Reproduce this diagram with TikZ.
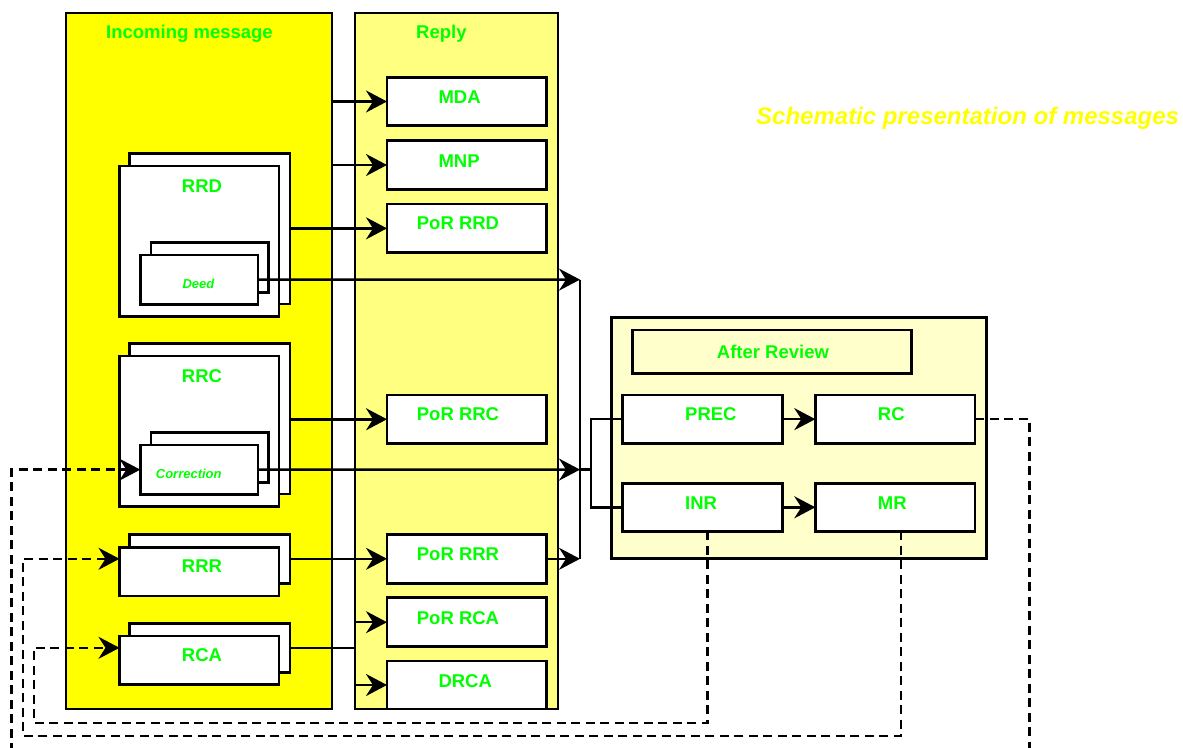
\documentclass[tikz,border=0pt]{standalone}
\usepackage{fontspec}
\setmainfont{Liberation Sans}
\usetikzlibrary{arrows.meta,calc}
\definecolor{incY}{HTML}{FFFF00}
\definecolor{repY}{HTML}{FFFF80}
\definecolor{arY}{HTML}{FFFFCC}
\definecolor{txtG}{HTML}{00FF00}
\newcommand\mybox[6][]{\node[box,#1,minimum width={(#5)-(#3)},minimum height={(#6)-(#4)}] (#2) at ({((#3)+(#5))/2},{((#4)+(#6))/2}) {};}
\begin{document}
\begin{tikzpicture}[x=1pt,y=-1pt,
  box/.style={draw=black,line width=2.5pt,fill=white,inner sep=0pt,outer sep=0pt,rectangle},
  lbl/.style={text=txtG,font=\bfseries\fontsize{18.5}{20}\selectfont,inner sep=0pt,anchor=west,text height=13.3pt,text depth=0pt},
  slbl/.style={lbl,font=\bfseries\itshape\fontsize{13}{15}\selectfont,text height=9.4pt},
  conn/.style={line width=2.5pt,line join=miter},
  tip/.style={-{Stealth[length=21pt,width=22pt,inset=7pt]}},
  arr/.style={conn,tip},
  dsh/.style={conn,dash pattern=on 9pt off 5.5pt},
  darr/.style={dsh,tip}]
\useasboundingbox (0,0) rectangle (1183,747);
\clip (0,0) rectangle (1183,747);
% containers
\mybox[fill=incY]{inc}{66}{13}{332}{709}
\mybox[fill=repY]{rep}{355}{13}{558}{709}
\mybox[fill=arY]{ar}{611.7}{317.5}{986.7}{558.3}
\mybox[fill=arY]{art}{632.7}{330}{911.7}{373.3}
% reply items
\mybox{mda}{387}{77.3}{546.5}{125.7}
\mybox{mnp}{387}{140.7}{546.5}{189.3}
\mybox{porrrd}{387}{204}{546.5}{252.7}
\mybox{porrrc}{387}{395}{546.5}{443.5}
\mybox{porrrr}{387}{534.3}{546.5}{583.3}
\mybox{porrca}{387}{597.7}{546.5}{646.7}
\mybox{drca}{387}{661}{546.5}{709}
% incoming items
\mybox{rrdB}{129.5}{153.3}{290}{304}
\mybox{rrd}{119.5}{166}{279}{316.7}
\mybox{deedB}{151}{242.3}{268.3}{292.3}
\mybox{deed}{140.3}{255}{258}{304.3}
\mybox{rrcB}{129.5}{343.3}{290}{494}
\mybox{rrc}{119.5}{356}{279}{506.7}
\mybox{corrB}{151}{432.3}{268.3}{482.3}
\mybox{corr}{140.3}{445}{258}{494.3}
\mybox{rrrB}{129.5}{534.3}{290}{583.3}
\mybox{rrr}{119.5}{547.3}{279}{596}
\mybox{rcaB}{129.5}{623.3}{290}{672.3}
\mybox{rca}{119.5}{636}{279}{684.3}
% after review items
\mybox{prec}{622.7}{395}{782.3}{443.3}
\mybox{rc}{815.3}{395}{975}{443.3}
\mybox{inr}{622.7}{483.3}{782.3}{531.3}
\mybox{mr}{815.3}{483.3}{975}{531.3}
% labels
\node[lbl] (l-inc) at (106,32.3) {Incoming message};
\node[lbl] (l-rep) at (416,32.3) {Reply};
\node[lbl] (l-mda) at (438.3,96.7) {MDA};
\node[lbl] (l-mnp) at (438.3,160.7) {MNP};
\node[lbl] (l-prd) at (416.7,223.3) {PoR RRD};
\node[lbl] (l-prc) at (416.7,414) {PoR RRC};
\node[lbl] (l-prr) at (416.7,554) {PoR RRR};
\node[lbl] (l-pca) at (416.7,617.5) {PoR RCA};
\node[lbl] (l-drca) at (438.3,680.5) {DRCA};
\node[lbl] (l-rrd) at (181.7,185.8) {RRD};
\node[lbl] (l-rrc) at (181.7,375.8) {RRC};
\node[lbl] (l-rrr) at (181.7,565.7) {RRR};
\node[lbl] (l-rca) at (181.7,654.7) {RCA};
\node[slbl] (l-deed) at (182.3,283.5) {Deed};
\node[slbl] (l-corr) at (155.7,473.5) {Correction};
\node[lbl] (l-ar) at (716.7,351.7) {After Review};
\node[lbl] (l-prec) at (685,414) {PREC};
\node[lbl] (l-rc) at (877.7,414) {RC};
\node[lbl] (l-inr) at (685,502.7) {INR};
\node[lbl] (l-mr) at (877.7,502.7) {MR};
\node[lbl,text=incY,font=\bfseries\itshape\fontsize{24}{28}\selectfont,text height=17.2pt] (title) at (756,115.5) {Schematic presentation of messages};
% junction coordinates
\coordinate (barT) at (580,279.6);
\coordinate (barM) at (580,469.6);
\coordinate (barB) at (580,558.8);
\coordinate (fork) at (591,469.6);
\coordinate (rcdn) at (1029.5,760);
\coordinate (lfdn) at (11.5,760);
\coordinate (inrL) at (34,723);
\coordinate (mrL) at (23,736);
% solid connectors
\draw[arr] (inc.east |- mda.west) -- (mda.west);
\draw[arr] (inc.east |- mnp.west) -- (mnp.west);
\draw[arr] (rrdB.east |- porrrd.west) -- (porrrd.west);
\draw[arr] (deed.east) -- (barT);
\draw[arr] (rrcB.east |- porrrc.west) -- (porrrc.west);
\draw[arr] (corr.east) -- (barM);
\draw[arr] (rrrB.east) -- (porrrr.west);
\draw[arr] (porrrr.east) -- (barB);
\draw[conn] (rcaB.east) -- (rcaB.east -| rep.west);
\draw[arr] (rep.west |- porrca.west) -- (porrca.west);
\draw[arr] (rep.west |- drca.west) -- (drca.west);
\draw[conn] (barT) -- (barB);
\draw[conn] (barM) -- (fork);
\draw[conn] (prec.west) -| (fork) |- (inr.west);
\draw[arr] (prec.east) -- (rc.west);
\draw[arr] (inr.east) -- (mr.west);
% dashed feedback connectors
\draw[darr] (rc.east) -| (rcdn) -- (lfdn) |- (corr.west);
\draw[darr] ([xshift=5.2pt]inr.south) |- (inrL) |- (rca.west |- rcaB.east);
\draw[darr] ([xshift=6pt]mr.south) |- (mrL) |- (rrr.west |- rrrB.east);
\end{tikzpicture}
\end{document}
